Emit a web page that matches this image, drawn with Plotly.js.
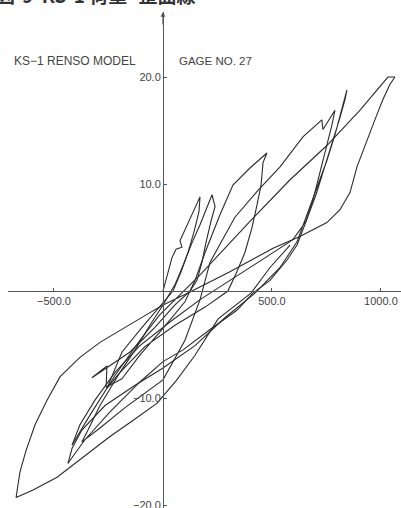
<!DOCTYPE html>
<html><head><meta charset="utf-8">
<script src="https://cdn.plot.ly/plotly-3.0.1.min.js"></script>
<style>html,body{margin:0;padding:0;background:#fff;}#chart{width:401px;height:508px;}</style>
</head><body><div id="chart"></div>
<script>
// strain (x) and load (y) per loading cycle
const strain1 = [0, 23, 41, 60, 87, 78, 106, 138, 170, 165, 142, 115, 83, 46, -14, -96, -188, -257, -197, -128, -60, 0];
const load1   = [0, 1.8, 3.1, 3.9, 4.1, 4.7, 6.0, 7.4, 8.8, 7.4, 5.5, 3.6, 1.8, 0, -1.4, -3.4, -5.7, -9.1, -7.6, -5.5, -3.2, -1.3];

const strain2 = [0, 55, 92, 133, 170, 202, 225, 239, 220, 197, 179, 156, 124, 55, -37, -151, -252, -326, -257, -261, -188];
const load2   = [-1.3, 0.6, 2.4, 4.5, 6.2, 7.8, 9.0, 7.9, 6.5, 4.5, 2.7, 1.0, 0, -1.3, -3.4, -5.7, -7.1, -8.1, -7.0, -9.0, -8.2];

const strain3 = [-188, -106, 0, 101, 147, 193, 261, 321, 399, 477, 459, 450, 431, 408, 376, 339, 298, 193, 55, -83, -197, -289, -344, -372];
const load3   = [-8.2, -6.0, -3.5, -1.0, 1.0, 3.6, 7.1, 9.9, 11.5, 12.9, 12.0, 9.9, 8.0, 5.9, 3.6, 1.8, 0, -1.5, -3.2, -5.2, -7.6, -10.7, -13.0, -14.1];

const strain4 = [-372, -289, -174, 0, 101, 170, 216, 330, 436, 537, 642, 729, 734, 789, 775, 752, 720, 688, 651, 615, 569, 491, 413, 339, 216, 92, 0, -106, -243, -358, -436];
const load4   = [-14.1, -12.8, -10.9, -8.3, -4.6, -0.8, 2.7, 6.9, 9.4, 11.6, 14.4, 16.0, 15.1, 16.9, 15.5, 13.6, 11.1, 8.5, 6.2, 4.3, 2.9, 1.0, -0.2, -1.8, -3.6, -5.5, -6.6, -8.5, -11.3, -13.9, -16.1];

const strain5 = [-436, -417, -372, -266, -128, 0, 147, 284, 422, 537, 615, 665, 711, 752, 789, 821, 844, 835, 812, 780, 743, 702, 656, 596, 468, 307, 170, 32, -106, -220, -312, -381, -417];
const load5   = [-16.1, -14.7, -13.0, -10.7, -8.8, -7.2, -5.1, -2.5, -0.2, 2.2, 4.6, 7.4, 9.9, 12.2, 14.6, 16.9, 18.8, 17.9, 16.2, 14.1, 11.8, 9.0, 6.5, 4.8, 3.1, 1.0, -0.8, -2.9, -5.1, -7.6, -10.2, -12.5, -14.4];

const strain6 = [-417, -335, -220, -106, -14, 170, 399, 583, 752, 904, 1032, 1064, 1041, 1009, 972, 936, 890, 858, 812, 752, 628, 505, 307, 124, 0, -83, -183, -289, -381, -472, -532, -587, -628, -656, -674, -596, -486, -367, -243, -138, -28, 60, 147, 253, 404, 491, 583];
const load6   = [-14.4, -11.6, -7.9, -4.6, -2.2, 1.5, 6.5, 10.4, 13.6, 16.9, 20.0, 20.0, 19.3, 17.9, 16.0, 14.1, 11.6, 9.2, 7.6, 6.4, 5.1, 4.0, 1.8, -0.1, -1.3, -2.3, -3.5, -4.8, -6.2, -8.0, -10.2, -12.5, -14.9, -16.9, -19.3, -18.6, -17.4, -15.5, -13.6, -12.1, -10.5, -8.4, -6.0, -2.6, -0.2, 2.2, 4.3];

const xTickVals = [-500, 500, 1000];
const xTickText = ['\u2212500.0', '500.0', '1000.0'];
const yTickVals = [-20, -10, 10, 20];
const yTickText = ['\u221220.0', '\u221210.0', '10.0', '20.0'];

const cycles = [[strain1, load1], [strain2, load2], [strain3, load3], [strain4, load4], [strain5, load5], [strain6, load6]];
const traces = cycles.map(([x, y]) => ({
  x: x, y: y, type: 'scatter', mode: 'lines',
  line: {color: '#2b2b2b', width: 1.1}, hoverinfo: 'skip', showlegend: false
}));

const tickFont = {family: 'Liberation Sans, Arial, sans-serif', size: 11, color: '#444'};
const layout = {
  width: 401, height: 508,
  margin: {l: 8, r: 0, t: 12, b: 0, pad: 0},
  paper_bgcolor: '#fff', plot_bgcolor: '#fff', showlegend: false,
  xaxis: {
    range: [-711, 1092], anchor: 'free', position: 0.4375,
    showline: true, linecolor: '#555', linewidth: 1.2, showgrid: false, zeroline: false,
    ticks: 'inside', ticklen: 3, tickcolor: '#555', tickwidth: 1,
    tickmode: 'array', tickvals: xTickVals, ticktext: xTickText, tickfont: tickFont,
    ticklabeloverflow: 'allow', automargin: false, fixedrange: true
  },
  yaxis: {
    range: [-20.28, 26.08], anchor: 'free', position: 0.3944,
    showline: true, linecolor: '#555', linewidth: 1.2, showgrid: false, zeroline: false,
    ticks: 'inside', ticklen: 3, tickcolor: '#555', tickwidth: 1,
    tickmode: 'array', tickvals: yTickVals, ticktext: yTickText, tickfont: tickFont,
    ticklabeloverflow: 'allow', automargin: false, fixedrange: true
  },
  annotations: [
    {x: 0, y: 26.08, xref: 'x', yref: 'y', ax: 0, ay: 14, text: '', showarrow: true,
     arrowhead: 2, arrowsize: 0.8, arrowwidth: 1.2, arrowcolor: '#555'},
    {x: -0.035, y: 1.0, xref: 'paper', yref: 'paper', xanchor: 'left', yanchor: 'bottom',
     text: '<b>図-9  KS-1 荷重−歪曲線</b>', showarrow: false, yshift: 2,
     font: {family: 'Noto Sans CJK JP', size: 19, color: '#333'}},
    {x: 0.0102, y: 0.9012, xref: 'paper', yref: 'paper', xanchor: 'left', yanchor: 'middle',
     text: 'KS\u22121 RENSO MODEL', showarrow: false,
     font: {family: 'Liberation Sans, Arial, sans-serif', size: 12, color: '#444'}},
    {x: 0.43, y: 0.9012, xref: 'paper', yref: 'paper', xanchor: 'left', yanchor: 'middle',
     text: 'GAGE NO. 27', showarrow: false,
     font: {family: 'Liberation Sans, Arial, sans-serif', size: 11.5, color: '#444'}}
  ]
};
Plotly.newPlot('chart', traces, layout, {staticPlot: true, displayModeBar: false});
</script>
</body></html>
